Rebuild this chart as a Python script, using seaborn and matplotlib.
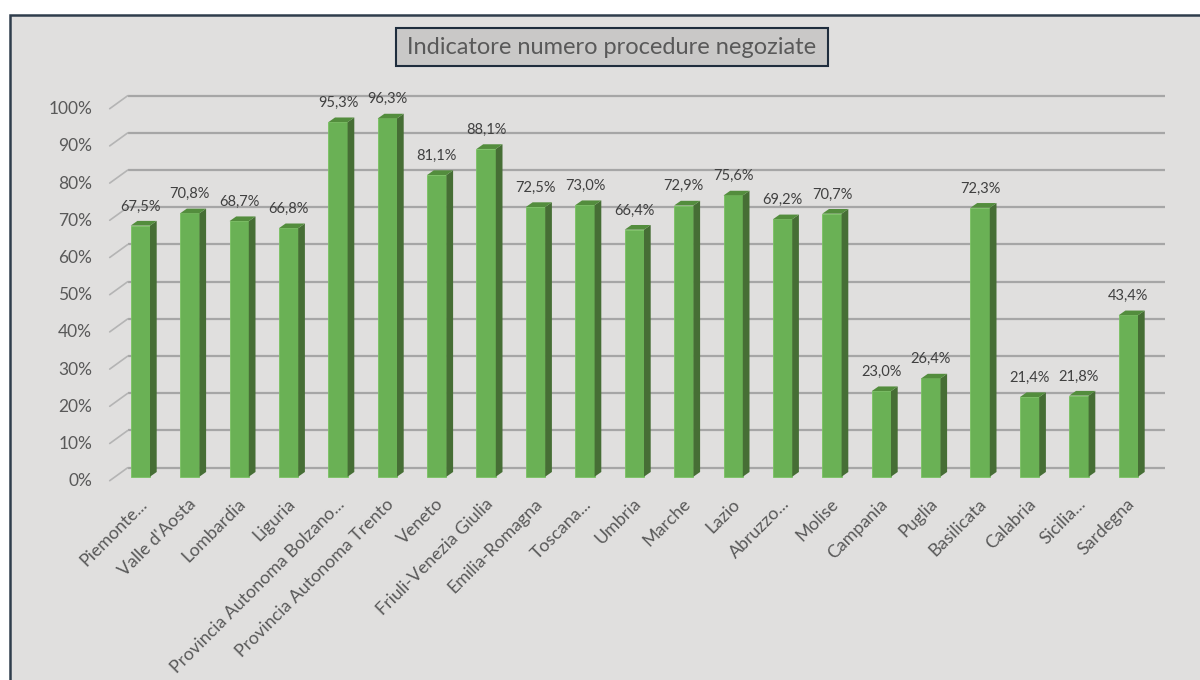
import matplotlib
matplotlib.use("Agg")
import matplotlib.pyplot as plt
import matplotlib.patches as mpatches
import matplotlib.transforms as mtransforms
import seaborn as sns
import pandas as pd

regions = ["Piemonte...", "Valle d'Aosta", "Lombardia", "Liguria",
           "Provincia Autonoma Bolzano...", "Provincia Autonoma Trento",
           "Veneto", "Friuli-Venezia Giulia", "Emilia-Romagna", "Toscana...",
           "Umbria", "Marche", "Lazio", "Abruzzo...", "Molise", "Campania",
           "Puglia", "Basilicata", "Calabria", "Sicilia...", "Sardegna"]
values = [67.5, 70.8, 68.7, 66.8, 95.3, 96.3, 81.1, 88.1, 72.5, 73.0,
          66.4, 72.9, 75.6, 69.2, 70.7, 23.0, 26.4, 72.3, 21.4, 21.8, 43.4]
y_ticks = [0, 10, 20, 30, 40, 50, 60, 70, 80, 90, 100]
title = "Indicatore numero procedure negoziate"

sns.set_style("white")
plt.rcParams['font.family'] = ['Lato', 'DejaVu Sans']

W, H = 1200, 680
fig = plt.figure(figsize=(12, 6.8), dpi=100, facecolor="white")

BG = "#E0DFDE"
# outer chart frame (extends past right/bottom)
frame = mpatches.Rectangle((10 / W, -0.05), 1.1, (H - 15) / H + 0.05,
                           transform=fig.transFigure, facecolor=BG,
                           edgecolor="#2F3D4C", linewidth=1.8, zorder=-10)
fig.patches.append(frame)

# pixel mapping
px0, px_step = 140.35, 49.4      # bar center of first category, spacing
py0, py_unit = 476.7, 3.72        # image y of value 0 (bar base), px per 1%
ax_left, ax_right, ax_top, ax_bot = 100, 1180, 60, 500
ax = fig.add_axes([ax_left / W, (H - ax_bot) / H,
                   (ax_right - ax_left) / W, (ax_bot - ax_top) / H])
ax.set_zorder(1)
ax.set_facecolor("none")
ax.patch.set_alpha(0)
for s in ax.spines.values():
    s.set_visible(False)

df = pd.DataFrame({"regione": regions, "valore": values})
sns.barplot(data=df, x="regione", y="valore", color="#6AB155",
            saturation=1, width=19.3 / px_step, ax=ax, zorder=3,
            edgecolor="#79C262", linewidth=0.6)

xlim = ((ax_left - px0) / px_step, (ax_right - px0) / px_step)
ylim = ((py0 - ax_bot) / py_unit, (py0 - ax_top) / py_unit)
ax.set_xlim(*xlim)
ax.set_ylim(*ylim)

# back-wall gridlines and perspective stubs
g_off = 9 / py_unit
gx0 = (127.7 - px0) / px_step
gx1 = (1165 - px0) / px_step
sdx = 18 / px_step
sdy = 13 / py_unit
lab_x = (92 - px0) / px_step
for k in y_ticks:
    ax.plot([gx0, gx1], [k + g_off, k + g_off], color="#A6A6A6", lw=1.6,
            zorder=1, solid_capstyle="butt")
    ax.plot([gx0 - sdx, gx0], [k + g_off - sdy, k + g_off], color="#B4B4B4",
            lw=1.2, zorder=1)
    ax.text(lab_x, k - 1.2, f"{k}%", ha="right", va="center",
            fontsize=12.5, color="#595959", clip_on=False)

dx = 6.7 / px_step
dy = 4.7 / py_unit
for p, v in zip(list(ax.patches), values):
    xl = p.get_x()
    xr = xl + p.get_width()
    h = p.get_height()
    side = mpatches.Polygon([(xr, 0), (xr + dx, dy), (xr + dx, h + dy), (xr, h)],
                            closed=True, facecolor="#466E35", edgecolor="none",
                            zorder=3)
    top = mpatches.Polygon([(xl, h), (xr, h), (xr + dx, h + dy), (xl + dx, h + dy)],
                           closed=True, facecolor="#538D3D", edgecolor="none",
                           zorder=3)
    ax.add_patch(side)
    ax.add_patch(top)
    ax.text(xl + p.get_width() / 2, h + dy + 2.0,
            f"{v:.1f}%".replace(".", ","), ha="center", va="bottom",
            fontsize=10.5, color="#404040", zorder=4)

ax.set_xlim(*xlim)
ax.set_ylim(*ylim)
ax.set_xlabel("")
ax.set_ylabel("")
ax.set_yticks([])
ax.set_xticks(range(len(regions)))
ax.set_xticklabels(regions, rotation=45, ha="right", va="center",
                   rotation_mode="anchor", fontsize=12.8, color="#595959")
ax.tick_params(axis="x", length=0, pad=1)
shift = mtransforms.ScaledTranslation(4 / 100, 0, fig.dpi_scale_trans)
for lab in ax.get_xticklabels():
    lab.set_transform(lab.get_transform() + shift)

# title box
tb = mpatches.Rectangle((396 / W, (H - 66) / H), (828.3 - 396) / W, (66 - 27.7) / H,
                        transform=fig.transFigure, facecolor="#C9C8C7",
                        edgecolor="#1F2D3D", linewidth=1.5, zorder=5)
fig.patches.append(tb)
fig.text(612 / W, (H - 47) / H, title, ha="center", va="center",
         fontsize=17, color="#595959", zorder=6)

fig.savefig("out.png", dpi=100, facecolor="white")
